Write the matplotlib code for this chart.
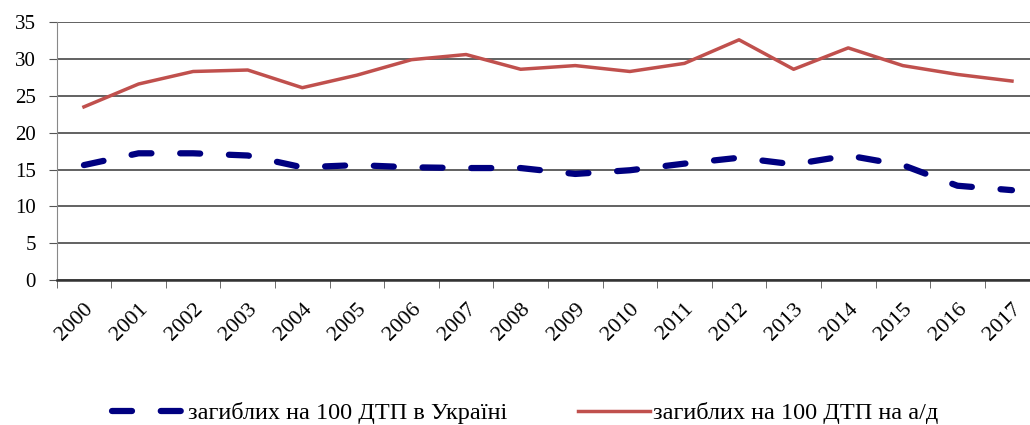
import matplotlib
matplotlib.use("Agg")
import matplotlib.pyplot as plt
import matplotlib.transforms as mtransforms
import numpy as np

years = [str(y) for y in range(2000, 2018)]
ukraine = [15.6, 17.2, 17.2, 16.9, 15.3, 15.6, 15.3, 15.2, 15.2, 14.4, 14.9,
           15.8, 16.6, 15.7, 16.9, 15.6, 12.8, 12.2]
roads = [23.5, 26.6, 28.3, 28.5, 26.1, 27.8, 29.9, 30.6, 28.6, 29.1, 28.3,
         29.4, 32.6, 28.6, 31.5, 29.1, 27.9, 27.0]
label_ukraine = "загиблих на 100 ДТП в Україні"
label_roads = "загиблих на 100 ДТП на а/д"

plt.rcParams['font.family'] = ['Liberation Serif', 'DejaVu Serif']

fig = plt.figure(figsize=(10.3, 4.25), dpi=100)
ax = fig.add_axes([0.055, 0.341, 0.954, 0.607])

x = np.arange(len(years))
ax.plot(x, ukraine, color='#000080', lw=4.5, linestyle=(0, (3.2, 4.6)),
        dash_capstyle='round', label=label_ukraine, zorder=3)
ax.plot(x, roads, color='#C0504D', lw=2.5, label=label_roads, zorder=3)

ax.set_xlim(-0.5, len(years) - 0.5)
ax.set_ylim(0, 35)
ax.set_yticks(range(0, 36, 5))
ax.yaxis.grid(True, color='#555555', lw=1.3)
ax.set_axisbelow(True)

ax.set_xticks(x)
ax.set_xticklabels(years, rotation=45, ha='right', va='top',
                   rotation_mode='anchor', fontsize=16)
# nudge year labels a little to the left
shift = mtransforms.ScaledTranslation(-4 / 100, 0, fig.dpi_scale_trans)
for lbl in ax.get_xticklabels():
    lbl.set_transform(lbl.get_transform() + shift)
ax.set_xticks(np.arange(-0.5, len(years), 1), minor=True)
ax.tick_params(axis='x', which='major', length=0, pad=14)
ax.tick_params(axis='x', which='minor', length=6, color='#555555')
ax.tick_params(axis='y', length=6, color='#555555', labelsize=15, pad=9)

for s in ['top', 'right']:
    ax.spines[s].set_visible(False)
ax.spines['left'].set_color('#888888')
ax.spines['bottom'].set_color('#333333')
ax.spines['bottom'].set_linewidth(1.8)

fig.legend(loc='center', bbox_to_anchor=(0.51, 12 / 425), ncol=2,
           frameon=False, fontsize=17.5, handlelength=3.0, handletextpad=0.1,
           columnspacing=2.9, borderaxespad=0, borderpad=0)

fig.savefig("out.png", dpi=100)
